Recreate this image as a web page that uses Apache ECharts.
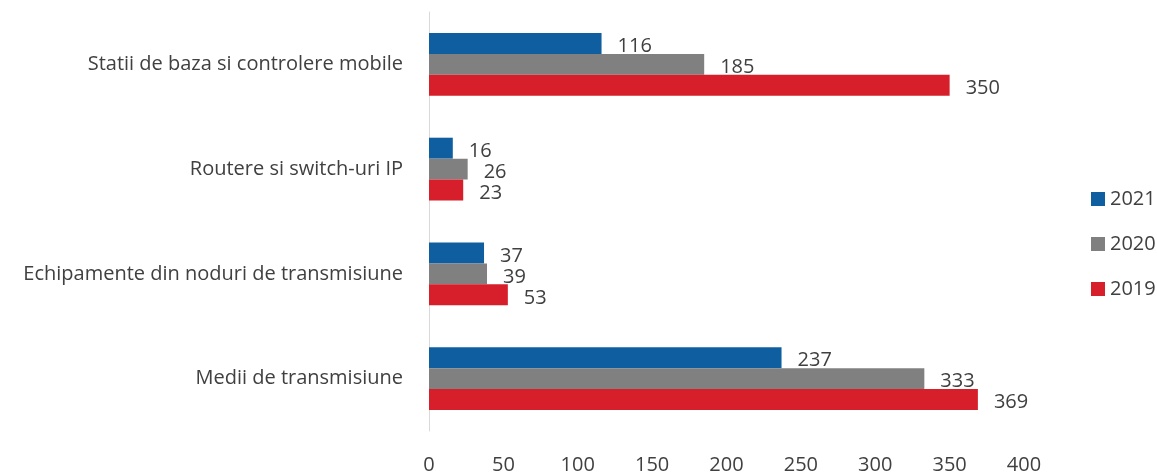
<!DOCTYPE html>
<html>
	<head>
		<meta charset="utf-8">
		<title>Echipamente</title>
		<style type="text/css">
			html, body { margin: 0; padding: 0; background: #fff; }
			#main { width: 1157px; height: 475px; }
		</style>
	</head>
	<body>
		<div id="main"></div>
		<script src="https://cdn.jsdelivr.net/npm/echarts@6/dist/echarts.min.js" type="text/javascript"></script>
		<script type="text/javascript">
			var categories = ['Statii de baza si controlere mobile', 'Routere si switch-uri IP',
				'Echipamente din noduri de transmisiune', 'Medii de transmisiune'];
			var years = ['2021', '2020', '2019'];
			var v2021 = [116, 16, 37, 237];
			var v2020 = [185, 26, 39, 333];
			var v2019 = [350, 23, 53, 369];
			var colors = ['#0f5fa0', '#808080', '#d61f2b'];

			var myChart = echarts.init(document.getElementById('main'));
			var font = 'Open Sans, Noto Sans, sans-serif';

			function mk(name, data, color) {
				return {
					name: name,
					type: 'bar',
					data: data,
					barGap: '0%',
					barCategoryGap: '40%',
					itemStyle: { color: color },
					label: {
						show: true,
						position: 'right',
						distance: 16,
						offset: [0, 3],
						color: '#404040',
						fontSize: 20,
						fontFamily: font
					}
				};
			}

			var option = {
				animation: false,
				grid: { left: 429, right: 133, top: 12, bottom: 43 },
				legend: {
					orient: 'vertical',
					left: 1086,
					top: 184,
					itemWidth: 14,
					itemHeight: 14,
					itemGap: 25,
					icon: 'rect',
					data: years,
					textStyle: { color: '#404040', fontSize: 20, fontFamily: font }
				},
				xAxis: {
					type: 'value',
					min: 0,
					max: 400,
					interval: 50,
					axisLine: { show: false },
					axisTick: { show: false },
					splitLine: { show: false },
					axisLabel: { color: '#404040', fontSize: 20, fontFamily: font, margin: 24 }
				},
				yAxis: {
					type: 'category',
					inverse: true,
					data: categories,
					axisLine: { show: true, lineStyle: { color: '#d9d9d9', width: 1 } },
					axisTick: { show: false },
					axisLabel: { color: '#404040', fontSize: 20, fontFamily: font, margin: 26 }
				},
				series: [
					mk('2021', v2021, colors[0]),
					mk('2020', v2020, colors[1]),
					mk('2019', v2019, colors[2])
				]
			};
			myChart.setOption(option);
		</script>
	</body>
</html>
